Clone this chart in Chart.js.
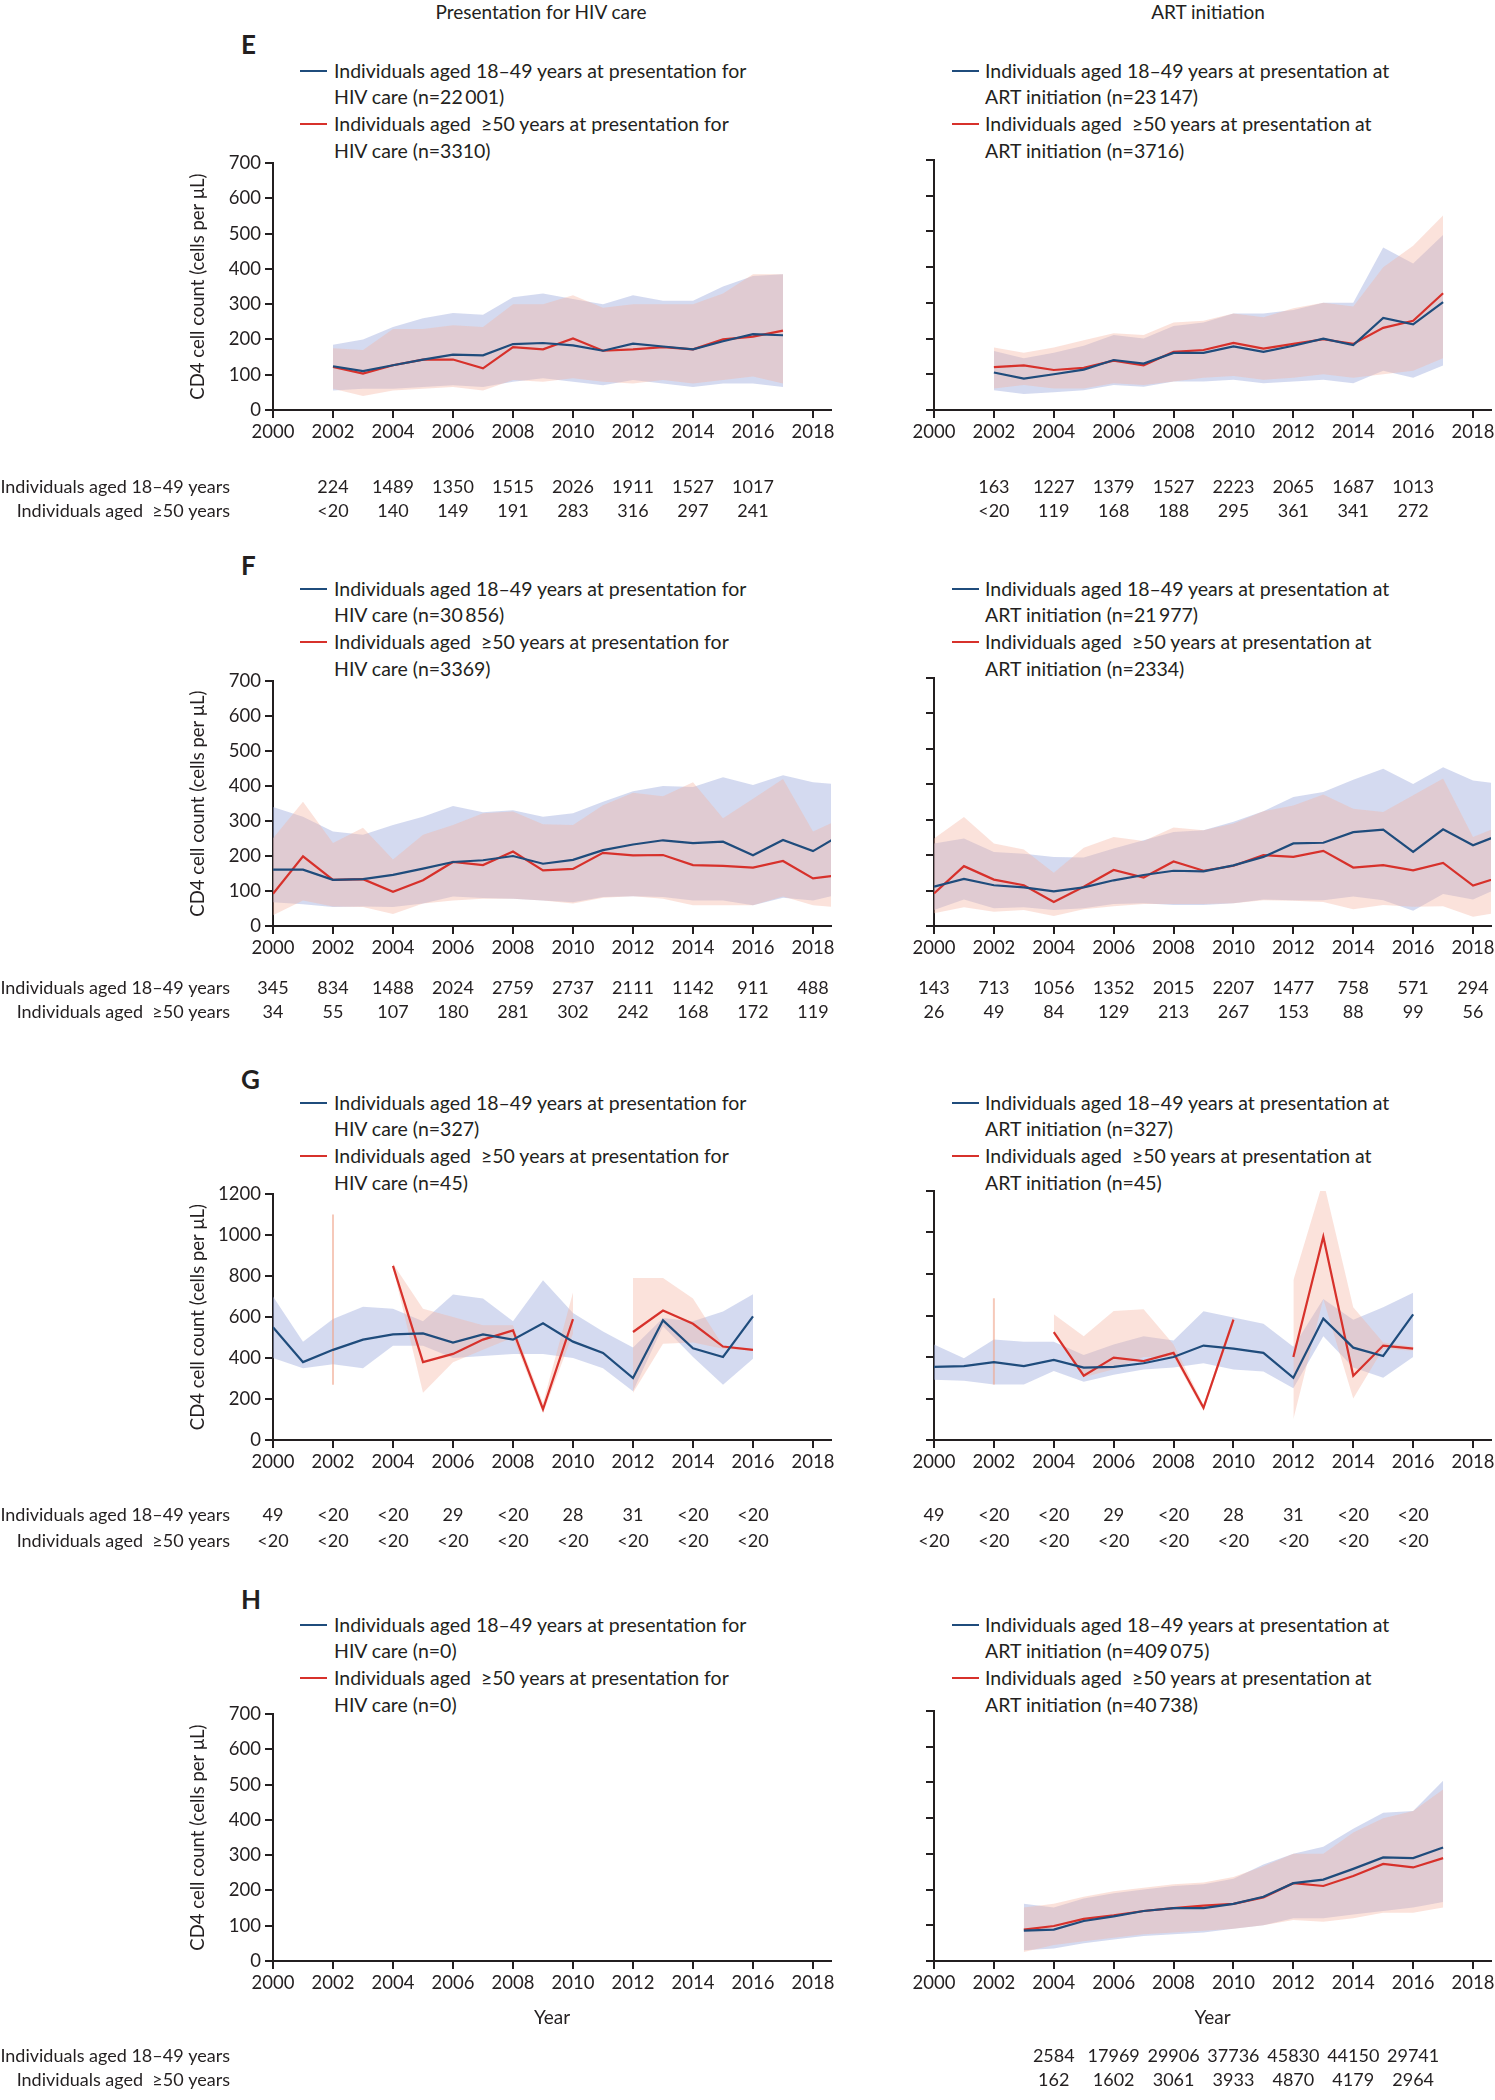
<!DOCTYPE html>
<html lang="en">
<head>
  <meta charset="UTF-8" />
  <title>CD4 cell count by age group</title>
  <script src="https://cdn.jsdelivr.net/npm/chart.js"></script>
  <style>
    body {
      margin: 0;
      background: #ffffff;
      font-family: Lato, "Open Sans", sans-serif;
      color: #231f20;
      overflow: hidden;
    }
    #page {
      position: relative;
      width: 1495px;
      height: 2100px;
    }
    #page canvas, .abs {
      position: absolute;
    }
    .colTitle {
      font-size: 19px;
      transform: translate(-50%, -50%);
      white-space: nowrap;
    }
    .letter {
      font-size: 26px;
      font-weight: bold;
      transform: translateY(-50%);
    }
    .legend {
      font-size: 19.5px;
      line-height: 26.7px;
      white-space: pre;
    }
  </style>
</head>
<body>
  <div id="page">
    <div class="abs colTitle" style="left:541px; top:11px;">Presentation for HIV care</div>
    <div class="abs colTitle" style="left:1208px; top:11px;">ART initiation</div>
  </div>

  <script>
    // ---- data ----
    const xTicks = [2000, 2002, 2004, 2006, 2008, 2010, 2012, 2014, 2016, 2018];
    const yTicks700 = [0, 100, 200, 300, 400, 500, 600, 700];
    const yTicks1200 = [0, 200, 400, 600, 800, 1000, 1200];
    const rowLabels = ['Individuals aged 18\u201349 years', 'Individuals aged  \u226550 years'];

    // E
    const eYears = [2002, 2003, 2004, 2005, 2006, 2007, 2008, 2009, 2010, 2011, 2012, 2013, 2014, 2015, 2016, 2017];
    const eHivBlue   = [124, 110, 127, 143, 157, 155, 187, 190, 183, 168, 188, 180, 172, 195, 215, 212];
    const eHivRed    = [122, 103, 127, 143, 143, 118, 178, 172, 203, 168, 172, 178, 172, 200, 208, 225];
    const eHivBlueHi = [185, 200, 235, 260, 275, 270, 320, 330, 315, 300, 325, 310, 310, 350, 380, 385];
    const eHivBlueLo = [55, 60, 60, 65, 70, 65, 80, 90, 80, 70, 85, 75, 65, 75, 75, 65];
    const eHivRedHi  = [175, 170, 230, 230, 240, 235, 300, 300, 325, 290, 300, 300, 300, 330, 385, 385];
    const eHivRedLo  = [60, 40, 55, 60, 65, 55, 85, 80, 90, 80, 75, 85, 75, 85, 95, 75];
    const eArtBlue   = [105, 88, 100, 113, 140, 130, 160, 160, 178, 163, 180, 200, 182, 258, 240, 302];
    const eArtRed    = [120, 125, 112, 118, 138, 125, 163, 168, 188, 172, 185, 198, 185, 230, 250, 327];
    const eArtBlueHi = [165, 145, 160, 180, 210, 200, 235, 245, 270, 270, 280, 300, 300, 455, 410, 490];
    const eArtBlueLo = [55, 45, 50, 55, 70, 65, 80, 80, 85, 75, 80, 85, 75, 110, 90, 125];
    const eArtRedHi  = [175, 160, 175, 195, 215, 210, 245, 250, 270, 260, 285, 300, 290, 400, 460, 545];
    const eArtRedLo  = [60, 70, 60, 60, 75, 70, 80, 90, 95, 85, 90, 100, 90, 100, 110, 145];
    const eCountYears = [2002, 2004, 2006, 2008, 2010, 2012, 2014, 2016];
    const eHivN1849 = ['224', '1489', '1350', '1515', '2026', '1911', '1527', '1017'];
    const eHivN50   = ['<20', '140', '149', '191', '283', '316', '297', '241'];
    const eArtN1849 = ['163', '1227', '1379', '1527', '2223', '2065', '1687', '1013'];
    const eArtN50   = ['<20', '119', '168', '188', '295', '361', '341', '272'];

    // F
    const fYears = [2000, 2001, 2002, 2003, 2004, 2005, 2006, 2007, 2008, 2009, 2010, 2011, 2012, 2013, 2014, 2015, 2016, 2017, 2018, 2019];
    const fHivBlue   = [161, 161, 132, 134, 146, 164, 183, 188, 200, 178, 189, 217, 233, 245, 237, 241, 202, 246, 214, 265];
    const fHivRed    = [92, 199, 132, 134, 98, 131, 183, 174, 213, 159, 163, 209, 202, 203, 174, 172, 167, 186, 136, 147];
    const fHivBlueHi = [340, 312, 270, 261, 289, 312, 343, 325, 331, 312, 322, 355, 385, 400, 397, 425, 403, 431, 411, 404];
    const fHivBlueLo = [68, 62, 54, 56, 54, 64, 84, 80, 78, 73, 68, 83, 85, 83, 73, 73, 59, 81, 73, 93];
    const fHivRedHi  = [251, 355, 237, 281, 190, 261, 289, 322, 327, 291, 289, 345, 381, 371, 411, 308, 364, 420, 270, 310];
    const fHivRedLo  = [31, 73, 56, 54, 34, 64, 73, 78, 78, 73, 64, 81, 85, 78, 59, 59, 59, 84, 59, 52];
    const fArtBlue   = [111, 133, 115, 109, 98, 109, 129, 144, 156, 154, 171, 195, 233, 235, 265, 272, 209, 273, 228, 261];
    const fArtRed    = [92, 169, 131, 115, 68, 111, 158, 137, 182, 156, 170, 200, 195, 212, 165, 172, 157, 178, 114, 141];
    const fArtBlueHi = [233, 247, 209, 204, 195, 193, 219, 242, 265, 270, 294, 324, 364, 378, 413, 444, 401, 448, 411, 400];
    const fArtBlueLo = [45, 75, 50, 53, 45, 50, 62, 64, 59, 59, 64, 75, 73, 73, 83, 73, 43, 90, 75, 112];
    const fArtRedHi  = [247, 308, 233, 216, 150, 221, 251, 240, 278, 270, 289, 324, 340, 371, 331, 322, 369, 416, 251, 285];
    const fArtRedLo  = [36, 53, 40, 45, 28, 47, 56, 62, 62, 62, 64, 73, 71, 68, 47, 59, 54, 56, 26, 40];
    const fCountYears = [2000, 2002, 2004, 2006, 2008, 2010, 2012, 2014, 2016, 2018];
    const fHivN1849 = ['345', '834', '1488', '2024', '2759', '2737', '2111', '1142', '911', '488'];
    const fHivN50   = ['34', '55', '107', '180', '281', '302', '242', '168', '172', '119'];
    const fArtN1849 = ['143', '713', '1056', '1352', '2015', '2207', '1477', '758', '571', '294'];
    const fArtN50   = ['26', '49', '84', '129', '213', '267', '153', '88', '99', '56'];

    // G
    const gYears = [2000, 2001, 2002, 2003, 2004, 2005, 2006, 2007, 2008, 2009, 2010, 2011, 2012, 2013, 2014, 2015, 2016];
    const gHivBlue   = [550, 380, 440, 490, 515, 520, 475, 515, 490, 570, 480, 425, 302, 584, 448, 405, 603];
    const gHivBlueHi = [700, 480, 590, 650, 640, 580, 710, 690, 580, 780, 620, 530, 452, 595, 580, 627, 711];
    const gHivBlueLo = [400, 350, 370, 350, 460, 460, 400, 410, 420, 420, 400, 350, 238, 555, 405, 270, 397];
    const gHivRed    = [null, null, null, null, 850, 380, 420, 490, 535, 150, 590, null, 527, 632, 567, 456, 440];
    const gHivRedHi  = [null, null, 1100, null, 860, 640, 600, 560, 560, 180, 720, null, 790, 790, 690, 460, 445];
    const gHivRedLo  = [null, null, 270, null, 840, 230, 380, 440, 500, 130, 520, null, 230, 470, 476, 445, 435];
    const gArtBlue   = [352, 356, 375, 356, 386, 349, 352, 370, 400, 455, 440, 420, 300, 585, 445, 405, 605];
    const gArtBlueHi = [460, 394, 484, 473, 473, 410, 460, 500, 480, 620, 590, 560, 450, 680, 580, 640, 710];
    const gArtBlueLo = [290, 286, 267, 267, 333, 281, 314, 340, 350, 370, 340, 330, 250, 500, 350, 300, 400];
    const gArtRed    = [null, null, null, null, 520, 310, 397, 380, 420, 155, 580, null, 400, 980, 310, 455, 440];
    const gArtRedHi  = [null, null, 683, null, 606, 500, 622, 630, 460, 170, 600, null, 770, 1250, 640, 470, 450];
    const gArtRedLo  = [null, null, 267, null, 508, 302, 341, 400, 400, 140, 560, null, 100, 680, 200, 440, 430];
    const gCountYears = [2000, 2002, 2004, 2006, 2008, 2010, 2012, 2014, 2016];
    const gN1849 = ['49', '<20', '<20', '29', '<20', '28', '31', '<20', '<20'];
    const gN50   = ['<20', '<20', '<20', '<20', '<20', '<20', '<20', '<20', '<20'];

    // H
    const hYears = [2003, 2004, 2005, 2006, 2007, 2008, 2009, 2010, 2011, 2012, 2013, 2014, 2015, 2016, 2017];
    const hArtBlue   = [85, 88, 112, 125, 140, 148, 148, 160, 180, 218, 228, 258, 290, 288, 318];
    const hArtRed    = [88, 98, 118, 128, 140, 148, 155, 160, 178, 218, 210, 238, 272, 262, 288];
    const hArtBlueHi = [160, 150, 175, 190, 200, 210, 215, 230, 270, 300, 320, 370, 415, 420, 505];
    const hArtBlueLo = [30, 35, 50, 60, 70, 75, 80, 90, 100, 120, 120, 130, 140, 150, 165];
    const hArtRedHi  = [150, 160, 180, 195, 205, 215, 220, 235, 265, 300, 300, 360, 400, 420, 480];
    const hArtRedLo  = [25, 45, 55, 65, 75, 80, 85, 90, 100, 115, 110, 120, 135, 135, 150];
    const hCountYears = [2004, 2006, 2008, 2010, 2012, 2014, 2016];
    const hArtN1849 = ['2584', '17969', '29906', '37736', '45830', '44150', '29741'];
    const hArtN50   = ['162', '1602', '3061', '3933', '4870', '4179', '2964'];

    // ---- styling ----
    const INK = '#231f20';
    const BLUE = '#1f4c7c';
    const RED = '#d7312b';
    const BLUE_BAND = 'rgba(160,172,222,0.45)';
    const RED_BAND = 'rgba(245,180,160,0.38)';
    const FONT = 'Lato';

    Chart.defaults.font.family = FONT;
    Chart.defaults.color = INK;

    // column geometry (page pixels)
    const COLS = {
      hiv: { left: 0, width: 860, padLeft: 185, yWidth: 88, padRight: 29, markX: 300, textX: 334 },
      art: { left: 860, width: 640, padLeft: 0, yWidth: 74, padRight: 9, markX: 952, textX: 985 }
    };

    const page = document.getElementById('page');

    function pts(years, vals) {
      return years.map((yr, i) => ({ x: yr, y: vals[i] }));
    }

    // a band value with no neighbours shows as a thin vertical stroke
    function isolatedBands(years, lo, hi) {
      const out = [];
      years.forEach((yr, i) => {
        if (lo[i] == null || hi[i] == null) return;
        const prev = i > 0 ? hi[i - 1] : null;
        const next = i < years.length - 1 ? hi[i + 1] : null;
        if (prev == null && next == null) {
          out.push({ x: yr, y: lo[i] }, { x: yr, y: hi[i] }, { x: yr, y: null });
        }
      });
      return out;
    }

    const countRows = {
      id: 'countRows',
      afterDraw(chart, args, opts) {
        if (!opts.offsets) return;
        const ctx = chart.ctx;
        const xs = chart.scales.x;
        const bottom = chart.chartArea.bottom;
        ctx.save();
        ctx.font = '18px ' + FONT;
        ctx.fillStyle = INK;
        ctx.textBaseline = 'middle';
        opts.offsets.forEach((off, r) => {
          const y = bottom + off;
          if (opts.labelX != null) {
            ctx.textAlign = 'right';
            ctx.fillText(rowLabels[r], opts.labelX, y);
          }
          ctx.textAlign = 'center';
          const vals = opts.rows[r] || [];
          vals.forEach((v, i) => ctx.fillText(v, xs.getPixelForValue(opts.years[i]), y));
        });
        ctx.restore();
      }
    };

    function addDiv(cls, x, y, html) {
      const d = document.createElement('div');
      d.className = 'abs ' + cls;
      d.style.left = x + 'px';
      d.style.top = y + 'px';
      d.innerHTML = html;
      page.appendChild(d);
      return d;
    }

    function addLegend(col, y, lines) {
      const c = COLS[col];
      addDiv('legend', c.textX, y - 13.35, lines.join('\n'));
      [[0, BLUE], [2, RED]].forEach(([row, color]) => {
        const m = document.createElement('div');
        m.className = 'abs';
        m.style.cssText = `left:${c.markX}px; top:${y + row * 26.7 - 1}px; width:27px; height:2px; background:${color};`;
        page.appendChild(m);
      });
    }

    function makePanel(o) {
      const c = COLS[o.col];
      const canvasTop = o.top - 12;
      const canvasH = o.rows[1] + 16 - canvasTop;
      const xAxisH = o.yearTitle ? 70 : 40;
      const padBottom = canvasH - 12 - (o.bottom - o.top) - xAxisH;

      const cv = document.createElement('canvas');
      cv.width = c.width;
      cv.height = canvasH;
      cv.style.left = c.left + 'px';
      cv.style.top = canvasTop + 'px';
      page.appendChild(cv);

      const datasets = [];
      if (o.years) {
        datasets.push(
          { data: pts(o.years, o.blue), borderColor: BLUE, borderWidth: 2.2, pointRadius: 0, fill: false, spanGaps: false },
          { data: pts(o.years, o.red), borderColor: RED, borderWidth: 2.2, pointRadius: 0, fill: false, spanGaps: false },
          { data: isolatedBands(o.years, o.redLo, o.redHi), borderColor: 'rgba(240,165,140,0.6)', borderWidth: 2, pointRadius: 0, fill: false, spanGaps: false },
          { data: pts(o.years, o.redHi), borderWidth: 0, borderColor: 'transparent', backgroundColor: RED_BAND, pointRadius: 0, fill: '+1', spanGaps: false },
          { data: pts(o.years, o.redLo), borderWidth: 0, borderColor: 'transparent', pointRadius: 0, fill: false, spanGaps: false },
          { data: pts(o.years, o.blueHi), borderWidth: 0, borderColor: 'transparent', backgroundColor: BLUE_BAND, pointRadius: 0, fill: '+1', spanGaps: false },
          { data: pts(o.years, o.blueLo), borderWidth: 0, borderColor: 'transparent', pointRadius: 0, fill: false, spanGaps: false }
        );
      }

      const yTicks = o.yMax === 1200 ? yTicks1200 : yTicks700;
      const axisLine = { color: INK, width: 2 };
      const grid = { drawOnChartArea: false, drawTicks: true, tickLength: 8, color: INK, lineWidth: 2 };

      new Chart(cv, {
        type: 'line',
        data: { datasets },
        plugins: [countRows],
        options: {
          responsive: false,
          animation: false,
          events: [],
          layout: { padding: { left: c.padLeft, right: c.padRight, top: 12, bottom: padBottom } },
          plugins: {
            legend: { display: false },
            tooltip: { enabled: false },
            countRows: {
              offsets: [o.rows[0] - o.bottom, o.rows[1] - o.bottom],
              rows: [o.n1849, o.n50],
              years: o.countYears,
              labelX: o.col === 'hiv' ? 230 : null
            }
          },
          scales: {
            x: {
              type: 'linear',
              min: 2000,
              max: 2018.6,
              afterBuildTicks: s => { s.ticks = xTicks.map(v => ({ value: v })); },
              afterFit: s => { s.height = xAxisH; },
              ticks: { font: { size: 18.5 }, color: INK, padding: 3, maxRotation: 0, callback: v => String(v) },
              grid,
              border: axisLine,
              title: { display: !!o.yearTitle, text: 'Year', font: { size: 19 }, color: INK, padding: { top: 4, bottom: 2 } }
            },
            y: {
              min: 0,
              max: o.yMax,
              afterBuildTicks: s => { s.ticks = yTicks.map(v => ({ value: v })); },
              afterFit: s => { s.width = c.yWidth; },
              ticks: { display: o.col === 'hiv', font: { size: 18.5 }, color: INK, padding: 4, callback: v => String(v) },
              grid,
              border: axisLine,
              title: { display: o.col === 'hiv', text: 'CD4 cell count (cells per \u03bcL)', font: { size: 18.5 }, color: INK, padding: { top: 2, bottom: 4 } }
            }
          }
        }
      });
    }

    // ---- panels ----
    const TS = '\u2009';
    const PANELS = [
      { key: 'E', letterY: 44, legendY: 71, top: 160, bottom: 410, rows: [487, 511], yMax: 700,
        hiv: { years: eYears, blue: eHivBlue, red: eHivRed, blueHi: eHivBlueHi, blueLo: eHivBlueLo, redHi: eHivRedHi, redLo: eHivRedLo,
               countYears: eCountYears, n1849: eHivN1849, n50: eHivN50, nA: '22' + TS + '001', nB: '3310' },
        art: { years: eYears, blue: eArtBlue, red: eArtRed, blueHi: eArtBlueHi, blueLo: eArtBlueLo, redHi: eArtRedHi, redLo: eArtRedLo,
               countYears: eCountYears, n1849: eArtN1849, n50: eArtN50, nA: '23' + TS + '147', nB: '3716' } },
      { key: 'F', letterY: 565, legendY: 589, top: 678, bottom: 926, rows: [988, 1012], yMax: 700,
        hiv: { years: fYears, blue: fHivBlue, red: fHivRed, blueHi: fHivBlueHi, blueLo: fHivBlueLo, redHi: fHivRedHi, redLo: fHivRedLo,
               countYears: fCountYears, n1849: fHivN1849, n50: fHivN50, nA: '30' + TS + '856', nB: '3369' },
        art: { years: fYears, blue: fArtBlue, red: fArtRed, blueHi: fArtBlueHi, blueLo: fArtBlueLo, redHi: fArtRedHi, redLo: fArtRedLo,
               countYears: fCountYears, n1849: fArtN1849, n50: fArtN50, nA: '21' + TS + '977', nB: '2334' } },
      { key: 'G', letterY: 1079, legendY: 1103, top: 1191, bottom: 1440, rows: [1515, 1541], yMax: 1200,
        hiv: { years: gYears, blue: gHivBlue, red: gHivRed, blueHi: gHivBlueHi, blueLo: gHivBlueLo, redHi: gHivRedHi, redLo: gHivRedLo,
               countYears: gCountYears, n1849: gN1849, n50: gN50, nA: '327', nB: '45' },
        art: { years: gYears, blue: gArtBlue, red: gArtRed, blueHi: gArtBlueHi, blueLo: gArtBlueLo, redHi: gArtRedHi, redLo: gArtRedLo,
               countYears: gCountYears, n1849: gN1849, n50: gN50, nA: '327', nB: '45' } },
      { key: 'H', letterY: 1599, legendY: 1625, top: 1711, bottom: 1961, rows: [2056, 2080], yMax: 700, yearTitle: true,
        hiv: { countYears: [], n1849: [], n50: [], nA: '0', nB: '0' },
        art: { years: hYears, blue: hArtBlue, red: hArtRed, blueHi: hArtBlueHi, blueLo: hArtBlueLo, redHi: hArtRedHi, redLo: hArtRedLo,
               countYears: hCountYears, n1849: hArtN1849, n50: hArtN50, nA: '409' + TS + '075', nB: '40' + TS + '738' } }
    ];

    PANELS.forEach(p => {
      addDiv('letter', 241, p.letterY, p.key);
      addLegend('hiv', p.legendY, [
        'Individuals aged 18\u201349 years at presentation for',
        'HIV care (n=' + p.hiv.nA + ')',
        'Individuals aged  \u226550 years at presentation for',
        'HIV care (n=' + p.hiv.nB + ')'
      ]);
      addLegend('art', p.legendY, [
        'Individuals aged 18\u201349 years at presentation at',
        'ART initiation (n=' + p.art.nA + ')',
        'Individuals aged  \u226550 years at presentation at',
        'ART initiation (n=' + p.art.nB + ')'
      ]);
      ['hiv', 'art'].forEach(col => {
        makePanel(Object.assign({ col, top: p.top, bottom: p.bottom, rows: p.rows, yMax: p.yMax, yearTitle: p.yearTitle }, p[col]));
      });
    });
  </script>
</body>
</html>
